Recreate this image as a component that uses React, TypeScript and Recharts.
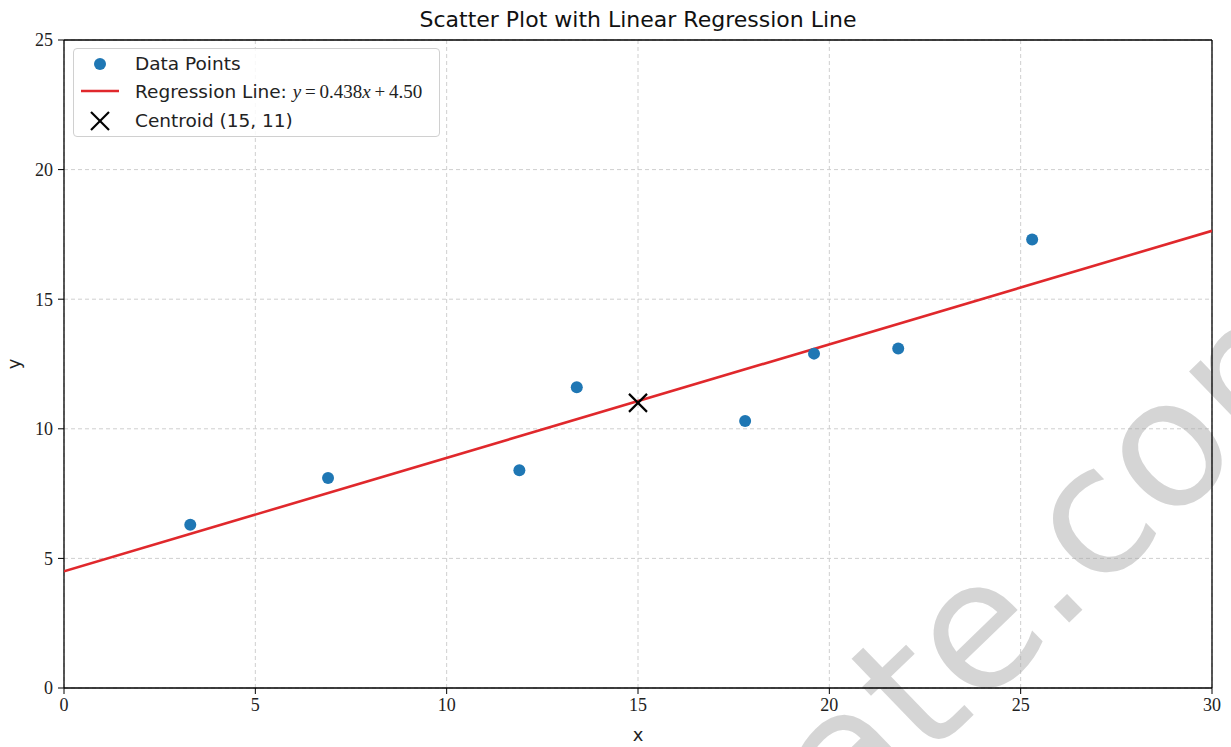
import React from 'react';
import {
  ScatterChart, Scatter, XAxis, YAxis, CartesianGrid, ReferenceLine, Customized,
} from 'recharts';

const pointX = [3.3, 6.9, 11.9, 13.4, 17.8, 19.6, 21.8, 25.3];
const pointY = [6.3, 8.1, 8.4, 11.6, 10.3, 12.9, 13.1, 17.3];
const slope = 0.438;
const intercept = 4.5;
const lineX = [0, 30];
const centroid = [{ x: 15, y: 11 }];
const xTicks = [0, 5, 10, 15, 20, 25, 30];
const yTicks = [0, 5, 10, 15, 20, 25];

const points = pointX.map((x, i) => ({ x, y: pointY[i] }));
const lineData = lineX.map((x) => ({ x, y: slope * x + intercept }));

const W = 1231;
const H = 747;
const SANS = '"DejaVu Sans", sans-serif';
const SERIF = '"Liberation Serif", "DejaVu Serif", serif';

const Cross = (props: any) => {
  const { cx, cy } = props;
  const s = 9;
  return (
    <g>
      <line x1={cx - s} y1={cy - s} x2={cx + s} y2={cy + s} stroke="#000" strokeWidth={2.2} />
      <line x1={cx - s} y1={cy + s} x2={cx + s} y2={cy - s} stroke="#000" strokeWidth={2.2} />
    </g>
  );
};

const Dot = (props: any) => <circle cx={props.cx} cy={props.cy} r={6} fill="#1f77b4" />;
const NoShape = () => null;

const LegendBox = () => (
  <div
    style={{
      position: 'absolute', left: 73, top: 48, width: 367, height: 89,
      border: '1px solid #d0d0d0', borderRadius: 4,
      background: 'rgba(255,255,255,0.85)', fontFamily: SANS, fontSize: 18.5, color: '#222',
      boxSizing: 'border-box', lineHeight: '22px',
    }}
  >
    <svg width={60} height={89} style={{ position: 'absolute', left: -1, top: -1 }}>
      <circle cx={27} cy={16} r={6} fill="#1f77b4" />
      <line x1={8} y1={43} x2={46} y2={43} stroke="#e0282c" strokeWidth={2.5} />
      <line x1={18} y1={64} x2={36} y2={82} stroke="#000" strokeWidth={2.2} />
      <line x1={18} y1={82} x2={36} y2={64} stroke="#000" strokeWidth={2.2} />
    </svg>
    <div style={{ position: 'absolute', left: 61, top: 4, whiteSpace: 'nowrap' }}>Data Points</div>
    <div style={{ position: 'absolute', left: 61, top: 32, whiteSpace: 'nowrap' }}>
      Regression Line:{' '}
      <span style={{ fontFamily: SERIF, fontSize: 19 }}>
        <i>y</i>&#8201;=&#8201;0.438<i>x</i>&#8201;+&#8201;4.50
      </span>
    </div>
    <div style={{ position: 'absolute', left: 61, top: 61, whiteSpace: 'nowrap' }}>Centroid (15, 11)</div>
  </div>
);

const Watermark = () => (
  <g style={{ pointerEvents: 'none' }}>
    <text
      x={848}
      y={836}
      transform="rotate(-44 848 836)"
      fontFamily={SANS}
      fontSize={178}
      fill="#a8a8a8"
      fillOpacity={0.48}
    >
      ate.com
    </text>
  </g>
);

export default function App() {
  return (
    <div style={{ position: 'absolute', left: 0, top: 0, width: W, height: H, background: '#fff', overflow: 'hidden' }}>
      <div
        style={{
          position: 'absolute', left: 0, width: 1276, top: 7, textAlign: 'center',
          fontFamily: SANS, fontSize: 22, color: '#111',
        }}
      >
        Scatter Plot with Linear Regression Line
      </div>
      <ScatterChart width={W} height={H} margin={{ top: 40, right: 19, left: 0, bottom: 0 }}>
        <CartesianGrid stroke="#cfcfcf" strokeDasharray="4 3" strokeWidth={1} />
        <XAxis
          type="number"
          dataKey="x"
          domain={[0, 30]}
          ticks={xTicks}
          interval={0}
          height={59}
          tickSize={6}
          tickMargin={4}
          axisLine={{ stroke: '#000', strokeWidth: 1.3 }}
          tickLine={{ stroke: '#000' }}
          tick={{ fontFamily: SERIF, fontSize: 18, fill: '#222' }}
          allowDataOverflow
          label={{ value: 'x', position: 'insideBottom', offset: 6, style: { fontFamily: SANS, fontSize: 18, fill: '#222' } }}
        />
        <YAxis
          type="number"
          dataKey="y"
          domain={[0, 25]}
          ticks={yTicks}
          interval={0}
          width={64}
          tickSize={6}
          tickMargin={5}
          axisLine={{ stroke: '#000', strokeWidth: 1.3 }}
          tickLine={{ stroke: '#000' }}
          tick={{ fontFamily: SERIF, fontSize: 18, fill: '#222' }}
          allowDataOverflow
          label={{ value: 'y', angle: -90, position: 'insideLeft', offset: 14, style: { fontFamily: SANS, fontSize: 18, fill: '#222', textAnchor: 'middle' } }}
        />
        <ReferenceLine x={30} stroke="#000" strokeWidth={1.3} />
        <ReferenceLine y={25} stroke="#000" strokeWidth={1.3} />
        <Scatter
          name="Regression Line"
          data={lineData}
          line={{ stroke: '#e0282c', strokeWidth: 2.6 }}
          shape={NoShape}
          isAnimationActive={false}
        />
        <Scatter name="Data Points" data={points} shape={Dot} isAnimationActive={false} />
        <Scatter name="Centroid" data={centroid} shape={Cross} isAnimationActive={false} />
        <Customized component={Watermark} />
      </ScatterChart>
      <LegendBox />
    </div>
  );
}
